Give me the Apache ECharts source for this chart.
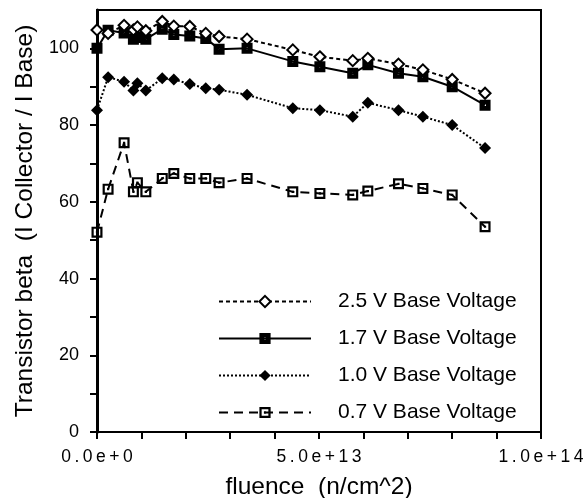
<!DOCTYPE html>
<html>
<head>
<meta charset="utf-8">
<script src="https://cdn.jsdelivr.net/npm/echarts@6/dist/echarts.min.js"></script>
<style>
html,body{margin:0;padding:0;background:#fff;}
#chart{width:584px;height:498px;}
</style>
</head>
<body>
<div id="chart"></div>
<script>
// Data
var fluence = [0, 2.5e12, 6.1e12, 8.2e12, 9.1e12, 1.10e13, 1.47e13, 1.73e13, 2.09e13, 2.45e13, 2.75e13, 3.38e13, 4.41e13, 5.02e13, 5.76e13, 6.10e13, 6.79e13, 7.34e13, 8.00e13, 8.74e13];
var beta25 = [104.8, 103.9, 106.0, 104.8, 105.6, 104.6, 107.0, 105.8, 105.7, 103.9, 103.1, 102.4, 99.6, 97.8, 96.8, 97.4, 95.9, 94.4, 91.9, 88.3];
var beta17 = [100.0, 104.7, 104.0, 102.4, 102.8, 102.4, 105.0, 103.6, 103.2, 102.6, 99.8, 100.0, 96.6, 95.2, 93.5, 95.7, 93.5, 92.6, 90.0, 85.2];
var beta10 = [83.9, 92.5, 91.3, 89.0, 90.9, 89.0, 92.2, 91.9, 90.7, 89.6, 89.2, 87.9, 84.4, 83.9, 82.2, 85.8, 83.9, 82.2, 80.0, 74.0];
var beta07 = [52.1, 63.3, 75.4, 62.6, 65.0, 62.6, 66.1, 67.4, 66.1, 66.1, 65.0, 66.1, 62.6, 62.2, 61.8, 62.8, 64.7, 63.5, 61.8, 53.5];
var seriesNames = ['2.5 V Base Voltage', '1.7 V Base Voltage', '1.0 V Base Voltage', '0.7 V Base Voltage'];
var xTickValues = [0, 5e13, 1e14];
var xTickLabels = ['0.0e+0', '5.0e+13', '1.0e+14'];
var yTickValues = [0, 20, 40, 60, 80, 100];
var yTickLabels = ['0', '20', '40', '60', '80', '100'];
var xTitle = 'fluence  (n/cm^2)';
var yTitle = 'Transistor beta  (I Collector / I Base)';

function pairs(ys) { return fluence.map(function (x, i) { return [x, ys[i]]; }); }
function spaced(s) { return s.split('').join('\u2009'); }

var FONT = 'Liberation Sans, Arial, Helvetica, sans-serif';
var openSquare = 'path://M0,0H10V10H0Z M2,2V8H8V2Z M4,4H6V6H4Z';
var filledSquare = 'path://M0,0H10V10H0Z M4.2,4.2V5.8H5.8V4.2Z';

var chart = echarts.init(document.getElementById('chart'), null, {renderer: 'canvas'});
chart.setOption({
  animation: false,
  backgroundColor: '#fff',
  grid: {left: 97, right: 43, top: 10, bottom: 66, containLabel: false, outerBoundsMode: 'none',
         show: true, borderColor: '#000', borderWidth: 2},
  xAxis: {
    type: 'value', min: 0, max: 1e14, interval: 1e13,
    name: xTitle, nameLocation: 'middle', nameGap: 43,
    nameTextStyle: {fontFamily: FONT, fontSize: 24.5, color: '#000'},
    axisLine: {lineStyle: {color: '#000', width: 2}},
    axisTick: {show: true, length: 7, lineStyle: {color: '#000', width: 2}},
    axisLabel: {
      fontFamily: FONT, fontSize: 17.5, color: '#000', margin: 16,
      formatter: function (v) { var k = xTickValues.indexOf(v); return k >= 0 ? spaced(xTickLabels[k]) : ''; }
    },
    splitLine: {show: false}
  },
  yAxis: {
    type: 'value', min: 0, max: 110, interval: 10,
    name: yTitle, nameLocation: 'middle', nameGap: 47, nameRotate: 90,
    nameTextStyle: {fontFamily: FONT, fontSize: 24.5, color: '#000'},
    axisLine: {lineStyle: {color: '#000', width: 3}},
    axisTick: {show: true, length: 7, lineStyle: {color: '#000', width: 2}},
    axisLabel: {
      fontFamily: FONT, fontSize: 18, color: '#000', margin: 18, showMaxLabel: false,
      formatter: function (v) { var k = yTickValues.indexOf(v); return k >= 0 ? yTickLabels[k] : ''; }
    },
    splitLine: {show: false}
  },
  legend: {
    orient: 'vertical', left: 213, top: 286,
    itemWidth: 92, itemHeight: 14, itemGap: 16,
    textStyle: {fontFamily: FONT, fontSize: 21, color: '#000', padding: [0, 0, 0, 22]},
    data: seriesNames
  },
  series: [
    {name: seriesNames[0], type: 'line', data: pairs(beta25), symbol: 'diamond', symbolSize: 11,
     itemStyle: {color: '#fff', borderColor: '#000', borderWidth: 2},
     lineStyle: {color: '#000', width: 2, type: [4, 3]}, z: 5},
    {name: seriesNames[1], type: 'line', data: pairs(beta17), symbol: filledSquare, symbolSize: 11,
     itemStyle: {color: '#000'},
     lineStyle: {color: '#000', width: 2, type: 'solid'}, z: 4},
    {name: seriesNames[2], type: 'line', data: pairs(beta10), symbol: 'diamond', symbolSize: 12,
     itemStyle: {color: '#000'},
     lineStyle: {color: '#000', width: 2, type: [2, 2]}, z: 3},
    {name: seriesNames[3], type: 'line', data: pairs(beta07), symbol: openSquare, symbolSize: 11,
     itemStyle: {color: '#000'},
     lineStyle: {color: '#000', width: 2, type: [9, 6]}, z: 2}
  ]
});
</script>
</body>
</html>
